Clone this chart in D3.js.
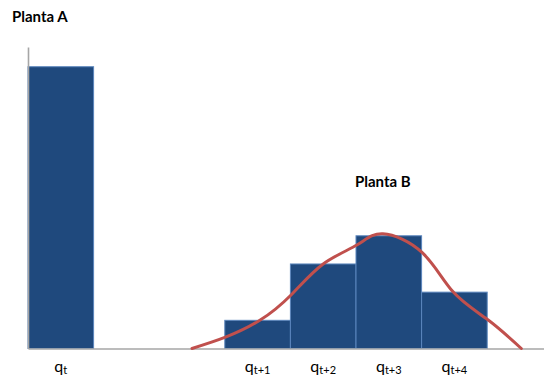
<!DOCTYPE html>
<html>
<head>
<meta charset="utf-8">
<script src="https://cdn.jsdelivr.net/npm/d3@7"></script>
<style>
  html, body { margin: 0; padding: 0; background: #fff; }
  svg { display: block; }
  text { font-family: Lato, "Open Sans", sans-serif; fill: #000; }
</style>
</head>
<body>
<svg id="chart" width="544" height="379"></svg>
<script>
// Output periods along the axis (one slot each); blank slots have no label
const slots   = ["s0", "s1", "s2", "s3", "s4", "s5", "s6", "s7"];
const subs    = ["t", "", "", "t+1", "t+2", "t+3", "t+4", ""];
const volumes = [10, 0, 0, 1, 3, 4, 2, 0];

// Smoothed demand curve for Planta B: position in slot units, height in volume units
const curvePos = [2.50, 3.02, 3.54, 4.01, 4.50, 5.02, 5.41, 6.01, 6.48, 7.01, 7.52];
const curveVal = [0.00, 0.41, 1.01, 1.90, 3.00, 3.68, 4.07, 3.40, 2.01, 1.02, 0.00];

const titles = ["Planta A", "Planta B"];

const svg = d3.select("#chart");
const plotLeft = 28, slotW = 65.6, plotBase = 348.5, plotTop = 47;

const x = d3.scaleBand().domain(slots).range([plotLeft, plotLeft + slotW * slots.length]).padding(0);
const xs = d3.scaleLinear().domain([0, slots.length]).range([plotLeft, plotLeft + slotW * slots.length]);
const y = d3.scaleLinear().domain([0, 10.7]).range([plotBase, plotTop]);

// Bars
svg.append("g").selectAll("rect")
  .data(slots.map((s, i) => ({ s, v: volumes[i] })).filter(d => d.v > 0))
  .join("rect")
  .attr("x", d => x(d.s))
  .attr("y", d => y(d.v))
  .attr("width", x.bandwidth())
  .attr("height", d => y(0) - y(d.v))
  .attr("fill", "#1f497d")
  .attr("stroke", "#5b86bd")
  .attr("stroke-width", 1);

// Axes (lines only)
const xAxis = svg.append("g")
  .attr("transform", `translate(0,${plotBase})`)
  .call(d3.axisBottom(x).tickSize(0).tickFormat(""));
xAxis.select(".domain").attr("stroke", "#a6a6a6").attr("stroke-width", 1.6);

const yAxis = svg.append("g")
  .attr("transform", `translate(${plotLeft},0)`)
  .call(d3.axisLeft(y).tickSize(0).tickFormat("").tickValues([]));
yAxis.select(".domain").attr("stroke", "#a6a6a6").attr("stroke-width", 1.6);

// Curve
const line = d3.line()
  .x(d => xs(d[0]))
  .y(d => y(d[1]))
  .curve(d3.curveNatural);
svg.append("path")
  .datum(curvePos.map((p, i) => [p, curveVal[i]]))
  .attr("d", line)
  .attr("fill", "none")
  .attr("stroke", "#c0504d")
  .attr("stroke-width", 3)
  .attr("stroke-linecap", "round");

// Category labels: q with subscript
const labels = svg.append("g").selectAll("text")
  .data(slots.map((s, i) => ({ s, sub: subs[i] })).filter(d => d.sub))
  .join("text")
  .attr("x", d => x(d.s) + x.bandwidth() / 2)
  .attr("y", 372)
  .attr("text-anchor", "middle")
  .style("font-size", "16px");
labels.append("tspan").text("q");
labels.append("tspan")
  .attr("dy", 2)
  .style("font-size", "11px")
  .text(d => d.sub);

// Plant titles
svg.append("text")
  .attr("x", 12).attr("y", 22)
  .style("font-size", "15px").style("font-weight", "bold")
  .text(titles[0]);
svg.append("text")
  .attr("x", 355).attr("y", 187)
  .style("font-size", "15px").style("font-weight", "bold")
  .text(titles[1]);
</script>
</body>
</html>
